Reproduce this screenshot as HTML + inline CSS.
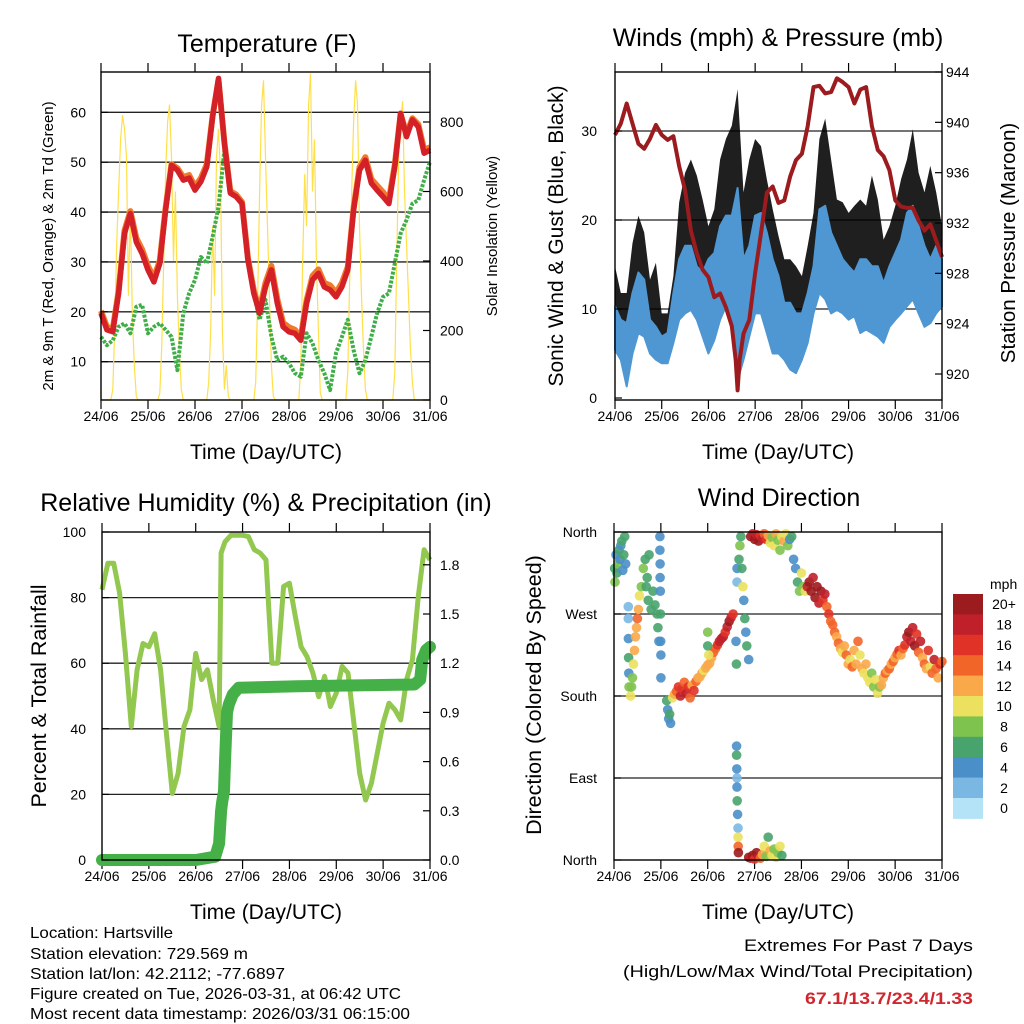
<!DOCTYPE html>
<html><head><meta charset="utf-8"><title>Hartsville Station Meteogram</title>
<style>
html,body{margin:0;padding:0;background:#fff;}
svg{display:block;font-family:"Liberation Sans",Arial,sans-serif;}
</style></head>
<body>
<svg id="fig" width="1024" height="1024" viewBox="0 0 1024 1024" xmlns="http://www.w3.org/2000/svg">
<rect x="0" y="0" width="1024" height="1024" fill="#fff"/>
<g id="p1"></g>
<g id="p2"></g>
<g id="p3"></g>
<g id="p4"></g>
<g id="cb"></g>
<text x="267" y="52" font-size="25" text-anchor="middle">Temperature (F)</text>
<text x="778" y="46" font-size="25" text-anchor="middle">Winds (mph) &amp; Pressure (mb)</text>
<text x="266" y="511" font-size="25" text-anchor="middle">Relative Humidity (%) &amp; Precipitation (in)</text>
<text x="779" y="506" font-size="25" text-anchor="middle">Wind Direction</text>
<text x="266" y="459" font-size="21" text-anchor="middle">Time (Day/UTC)</text>
<text x="778" y="459" font-size="21" text-anchor="middle">Time (Day/UTC)</text>
<text x="266" y="919" font-size="21" text-anchor="middle">Time (Day/UTC)</text>
<text x="778" y="919" font-size="21" text-anchor="middle">Time (Day/UTC)</text>
<text transform="translate(53,246) rotate(-90)" font-size="15" text-anchor="middle">2m &amp; 9m T (Red, Orange) &amp; 2m Td (Green)</text>
<text transform="translate(497,236) rotate(-90)" font-size="15" text-anchor="middle">Solar Insolation (Yellow)</text>
<text transform="translate(563,236) rotate(-90)" font-size="21" text-anchor="middle">Sonic Wind &amp; Gust (Blue, Black)</text>
<text transform="translate(1015,243) rotate(-90)" font-size="20.5" text-anchor="middle">Station Pressure (Maroon)</text>
<text transform="translate(46,696) rotate(-90)" font-size="21.5" text-anchor="middle">Percent &amp; Total Rainfall</text>
<text transform="translate(541,695) rotate(-90)" font-size="21.5" text-anchor="middle">Direction (Colored By Speed)</text>
<g font-size="16">
<text x="30" y="938" textLength="143" lengthAdjust="spacingAndGlyphs">Location: Hartsville</text>
<text x="30" y="959" textLength="218" lengthAdjust="spacingAndGlyphs">Station elevation: 729.569 m</text>
<text x="30" y="979" textLength="255" lengthAdjust="spacingAndGlyphs">Station lat/lon: 42.2112; -77.6897</text>
<text x="30" y="999" textLength="371" lengthAdjust="spacingAndGlyphs">Figure created on Tue, 2026-03-31, at 06:42 UTC</text>
<text x="30" y="1019" textLength="380" lengthAdjust="spacingAndGlyphs">Most recent data timestamp: 2026/03/31 06:15:00</text>
</g>
<text x="973" y="951" font-size="17" text-anchor="end" textLength="229" lengthAdjust="spacingAndGlyphs">Extremes For Past 7 Days</text>
<text x="973" y="977" font-size="17" text-anchor="end" textLength="350" lengthAdjust="spacingAndGlyphs">(High/Low/Max Wind/Total Precipitation)</text>
<text x="973" y="1004" font-size="17" font-weight="bold" fill="#d0262d" text-anchor="end" textLength="168" lengthAdjust="spacingAndGlyphs">67.1/13.7/23.4/1.33</text>
</svg>
<script>
// ---------- data ----------
var dayLabels = ["24/06","25/06","26/06","27/06","28/06","29/06","30/06","31/06"];
var tempHours = [0,3,6,9,12,15,18,21,24,27,30,33,36,39,42,45,48,51,54,57,60,63,66,69,72,75,78,81,84,87,90,93,96,99,102,105,108,111,114,117,120,123,126,129,132,135,138,141,144,147,150,153,156,159,162,165,168];
var temp2m = [19.7,16.4,16,23.7,35.7,39.7,34,31.7,28.4,26,29.7,40.4,49.4,48.4,46.4,46.8,44.4,46.1,49.1,59.1,66.8,53.8,43.8,43.1,41.7,30.4,23.7,19.7,25,28.4,21.7,17,16,15.7,14.3,21.7,26.4,27.7,25,24.4,23,25,28.4,40.4,48.4,50.4,45.8,44.4,43.1,41.7,49.1,59.8,55.1,58.5,57.1,51.8,52.4];
var temp9m = [20.2,17,16.6,24.2,36.3,40.2,34.8,32.5,29.2,26.8,30.3,40.8,49.6,48.8,47,47.4,45.1,46.8,49.6,59.3,66.5,54,44.2,43.5,42,30.8,24.3,20.4,25.8,29.2,22.6,17.8,16.9,16.4,15,22.3,27.2,28.5,25.8,25.3,23.8,25.8,29,40.8,49,51,46.6,45.3,44,42.5,49.5,59.7,55.6,58.8,57.6,52.5,53];
var dewpt = [15,13.3,14.3,17,17.7,15.7,21,21.4,15.7,17,17.7,16.4,15,8.3,19.7,23.7,26.4,31,29.7,35,41,52.4,43.8,43.1,41.7,30.4,23.7,18.4,22.4,15,10.3,11,9.7,7.7,7,15.7,13.7,10.3,7.7,4.3,11.7,15,18.4,12.3,7.7,10.3,15,19.7,23,23.7,29.7,35.7,38.4,41.7,42.4,46.4,50.1];
var solarHours = [0,5,6,7,8,9,10,11,12,13,14,15,16,17,18,19, 29,30,31,32,33,34,35,36,37,38,39,40,41,42, 54,55,56,57,58,59,60,61,62,63,64,65,66, 78,79,80,81,82,83,84,85,86,87,88,89, 101,102,103,104,105,106,107,108,109,110,111,112,113, 125,126,127,128,129,130,131,132,133,134,135,136, 149,150,151,152,153,154,155,156,157,158,159,160,168];
var solarVals  = [0,0,30,200,450,600,750,820,780,700,300,550,250,100,10,0, 0,20,150,400,650,800,850,700,400,600,300,150,30,0, 0,50,200,500,300,700,780,650,200,30,100,10,0, 0,50,300,600,850,920,700,500,300,100,10,0, 0,100,400,650,500,850,940,600,750,400,200,20,0, 0,80,350,600,800,920,850,500,300,150,30,0, 0,80,400,700,800,860,600,450,300,150,50,0,0];
var gustMax = [14.8,11.8,11.8,17.4,20.5,18.6,13.3,15.2,9.5,9.5,13.7,22,25.3,26.8,25,22.3,19.3,21.2,26.8,29.1,30.6,34.7,23.1,26.8,29.1,28.3,24.6,21.2,18.2,15.6,15.6,14.8,13.7,17.1,20.8,29.1,31.4,26.8,22.3,22,20.8,21.6,22.3,21.6,25,22.3,17.8,19.3,21.6,24.6,26.8,30.2,25.3,23.1,26.1,23.1,19.3];
var windMax = [10.3,8.8,8.4,11.8,14.1,13.3,8.8,8,6.9,7.3,11.8,15.6,17.1,17.1,14.8,14.1,15.6,16.3,19.3,20.5,20.5,23.6,15.6,17.1,20.5,20.8,18.6,15.6,13.7,10.7,10.7,9.5,9.5,11.8,14.8,21.2,21.6,18.6,17.1,15.6,14.8,14.1,15.6,15.6,14.8,14.8,12.9,14.8,16.3,17.8,20.8,21.6,19.3,17.1,15.6,17.1,15.6];
var windMin = [5.4,4.3,1.3,5,7.3,6.9,5,4.3,3.9,3.9,6.2,8.8,9.5,9.9,8.8,6.9,5,6.5,8.8,10.3,8,2,4.3,6.9,9.5,9.5,7.3,5,5,4.3,3.2,2.8,4.3,6.2,9.5,11.8,11.1,9.5,9.9,9.5,8.8,9.2,7.3,7.7,7.3,6.9,6.2,8,8.8,9.5,10.3,11.1,9.5,8,8.4,9.5,10.3];
var presHours = [0,3,6,9,12,15,18,21,24,27,30,33,36,39,42,45,48,51,54,57,60,62,63,64,66,69,72,75,78,81,84,87,90,93,96,99,102,105,108,111,114,117,120,123,126,129,132,135,138,141,144,147,150,153,156,159,162,165,168];
var pressure = [939,939.9,941.5,939.9,938.3,937.9,938.7,939.8,939,938.6,938.9,936.5,934.6,931.4,929.6,928.3,927.7,926.1,926.4,925.3,923.8,921.1,918.7,921.1,923.2,924.3,928,931.2,934.4,934.9,933.6,933.8,935.7,937,937.5,939.7,942.8,942.9,942.3,942.4,943.5,943.2,942.8,941.5,942.6,942.8,939.7,937.8,937.3,936.2,933.8,933.3,933.2,933.2,932.2,931.4,931.9,930.6,929.3];
var rhHours = [0,3,6,9,12,15,18,21,24,27,30,33,36,39,42,45,48,51,54,57,60,61,63,66,69,72,75,78,81,84,87,90,93,96,99,102,105,108,111,114,117,120,123,126,129,132,135,138,141,144,147,150,153,156,159,162,165,168];
var rh = [82.4,90.5,90.5,81.4,63,40.7,58,66,65,69,58,38.7,20.3,26.4,40.7,45.8,63,55,58,48.8,40.7,93.6,97,99,99,99,98.6,94.6,93.6,91.5,60,60,83.4,84.4,74.3,65,62,57,49.8,56,46.8,50.9,59,57,41.7,26.4,18.3,23.4,32.6,41.7,47.8,45.8,42.7,55,61,80.4,94.6,91.5];
var precipHours = [0,48,58,60,61,61.5,62.5,63,64,65,67,70,100,160,163,164,166,168];
var precip = [0,0,0.02,0.1,0.3,0.35,0.42,0.6,0.9,0.95,1.01,1.05,1.06,1.07,1.1,1.22,1.28,1.3];
var dirHours = [0.3,0.5,1,1.5,2,2.5,3,3.5,4,4.5,5,5.5,6, 7.3,7.3,7.4,7.5,7.6,7.7, 8.5,9,9.5,10,10.5,11,11.5,12,12.5,13,14,15, 16,16.5,17,17.5,18,19,20,21,22,22.5,23, 23.5,23.5,23.6,23.6,23.7,23.8,23.9,24,24, 27,27.5,28,28.5,29, 30,31,32,33,34,35,36,37,38,39,40,41,42,43,44,45,46,47,48,49,50,51,52,53,54,55,56,57,58,59,60,61, 48,48,48.5, 62.5,62.7,63,63,64,64.5,65,65.5,66,66.5,67,67.5,68,69, 62.8,62.8,62.9,63,63,63.1,63.3,63.5,63.5,63.6,63.7, 70,71,72,73,74,75,76,77,78,79,80,81,82,83,84,85,86,87,88,89,90,91, 69,70,71,72,73,74,75,76,77,78,79,80,81,82,83,84,85,86, 92,93,94,95,96,97,98, 99,100,101,102,103,104,105,106,107,108,109,110,111, 112,113,114,115,116,117,118,119,120,121,122,123,124,125,126,127,128,129,130,131,132,133,134,135,136,137,138,139, 140,141,142,143,144,145,146,147,148,149,150,151,152,153,154,155,156,157,158,159,160,161,162,163,164,165,166,167,168];
var dirDeg = [320,305,335,315,325,340,330,345,350,318,335,355,325, 278,265,243,222,205,190, 180,190,200,215,230,245,255,265,275,290,300,320, 330,300,310,285,335,275,295,280,270,255,240, 355,340,325,310,295,270,240,225,200, 175,165,155,160,150, 178,182,185,190,180,188,195,183,190,178,192,186,196,200,201,205,208,211,214,216,222,228,232,236,240,243,245,250,256,262,266,270, 250,235,225, 240,215,320,305,330,345,355,320,300,285,265,250,235,220, 125,115,100,90,80,65,50,35,25,15,8, 355,358,352,357,350,356,353,358,352,356,348,354,345,358,351,340,355,350,358,345,352,355, 3,2,5,1,8,3,2,6,15,4,25,10,5,12,3,8,15,5, 330,320,305,295,315,300,295, 300,305,295,310,288,300,282,295,285,292,278,270,262, 258,250,245,238,232,228,235,225,215,220,212,230,215,240,225,210,205,215,200,195,205,190,198,183,190,192,200,205, 208,210,215,218,222,226,230,225,232,236,245,250,240,255,235,248,228,240,222,215,210,230,212,205,220,210,200,215,218];
var dirSpeed = [6,8,5,7,9,6,4,5,6,4,6,6,4, 2,3,4,6,4,8, 10,9,8,10,12,13,12,14,12,10,8,9, 7,6,7,6,7,6,6,7,6,6,5, 4,4,4,4,5,6,4,4,4, 6,5,4,6,4, 10,12,14,16,18,16,14,18,16,14,12,16,14,12,12,12,10,12,12,12,12,14,14,16,18,18,18,16,18,20,18,16, 8,6,10, 4,6,4,2,6,8,6,6,10,4,6,4,6,4, 4,6,4,2,4,6,4,2,10,14,20, 20,18,20,18,20,16,18,14,16,12,10,8,10,12,8,8,10,12,10,8,4,6, 20,18,20,16,20,18,14,12,10,8,6,12,10,8,10,8,10,6, 4,4,6,8,10,8,10, 18,20,20,18,20,20,18,20,16,18,14,16,14, 14,14,12,14,12,10,12,14,12,10,14,12,12,14,10,12,10,12,10,10,8,8,10,10,8,12,12,14, 12,14,12,14,12,14,16,12,14,16,18,20,18,18,20,16,14,18,12,14,12,16,10,14,18,14,12,16,14];
var speedLabels = ["0","2","4","6","8","10","12","14","16","18","20+"];
var speedColors = ["#b4e3f8","#7ab8e3","#4a8fc8","#48a36d","#7fc34f","#ebe15e","#f9a94a","#f26529","#e03226","#c0202a","#9b1b1e"];
var tempTicks = [10,20,30,40,50,60];
var solarTicks = [0,200,400,600,800];
var windTicks = [0,10,20,30];
var presTicks = [920,924,928,932,936,940,944];
var rhTicks = [0,20,40,60,80,100];
var rainTicks = [0,0.3,0.6,0.9,1.2,1.5,1.8];
var dirTicks = [0,90,180,270,360];
var dirNames = ["North","East","South","West","North"];

// ---------- helpers ----------
var NS = "http://www.w3.org/2000/svg";
function mk(tag, parent, attrs){ var e=document.createElementNS(NS,tag); for(var k in attrs) e.setAttribute(k,attrs[k]); parent.appendChild(e); return e; }
function scaleLin(d0,d1,r0,r1){ return function(v){ return r0+(v-d0)*(r1-r0)/(d1-d0); }; }
function pathFrom(xs, ys, fx, fy){ var s=""; for(var i=0;i<xs.length;i++){ s+=(i?"L":"M")+fx(xs[i]).toFixed(1)+","+fy(ys[i]).toFixed(1); } return s; }

function frame(g, x0, x1, y0, y1, gridVals, fy){
  var fx = scaleLin(0,168,x0,x1);
  for (var i=0;i<gridVals.length;i++){
    var y=fy(gridVals[i]);
    if (y>y0+3 && y<y1-3){
      var gl = mk("line", g, {x1:x0,x2:x1,y1:y,y2:y,stroke:"#222","stroke-width":1.3});
      
      
    }
  }
  for (var d=0; d<dayLabels.length; d++){
    var x=fx(d*24);
    var t1 = mk("line", g, {x1:x,x2:x,y1:y0-9,y2:y0,stroke:"#000","stroke-width":1.2});
    
    
    var t2 = mk("line", g, {x1:x,x2:x,y1:y1,y2:y1+9,stroke:"#000","stroke-width":1.2});
    
    
    var lb = mk("text", g, {x:x,y:y1+21,"font-size":14,"text-anchor":"middle"});
    lb.textContent = dayLabels[d];
    
    
  }
  return fx;
}
function border(g,x0,x1,y0,y1){
  var b = mk("rect", g, {x:x0,y:y0,width:x1-x0,height:y1-y0,fill:"none",stroke:"#000","stroke-width":1.4});
  
  
}
function yLabels(g, vals, texts, fy, x, anchor, tickX, tickDir){
  for (var i=0;i<vals.length;i++){
    var y=fy(vals[i]);
    var t = mk("text", g, {x:x,y:y+5,"font-size":14,"text-anchor":anchor});
    t.textContent = texts[i];
    
    
    var tk = mk("line", g, {x1:tickX,x2:tickX+tickDir*7,y1:y,y2:y,stroke:"#000","stroke-width":1.2});
    
    
  }
}

// ---------- panel 1: temperature ----------
(function(){
  var g=document.getElementById("p1");
  var X0=101,X1=430,Y0=72,Y1=400;
  var fy=scaleLin(60,10,112.3,361.7);
  var fs=scaleLin(0,800,400,122);
  var fx=frame(g,X0,X1,Y0,Y1,tempTicks,fy);
  var sol = mk("path", g, {d:pathFrom(solarHours,solarVals,fx,fs),fill:"none",stroke:"#ffe04a","stroke-width":1.2});
  
  
  var dp = mk("path", g, {d:pathFrom(tempHours,dewpt,fx,fy),fill:"none",stroke:"#3fae49","stroke-width":4,"stroke-dasharray":"3,1.5","stroke-linejoin":"round"});
  
  
  var t9 = mk("path", g, {d:pathFrom(tempHours,temp9m,fx,fy),fill:"none",stroke:"#f07a2b","stroke-width":6,"stroke-linejoin":"round"});
  
  
  var t2 = mk("path", g, {d:pathFrom(tempHours,temp2m,fx,fy),fill:"none",stroke:"#d42027","stroke-width":5.5,"stroke-linejoin":"round"});
  
  
  border(g,X0,X1,Y0,Y1);
  yLabels(g,tempTicks,tempTicks.map(String),fy,86,"end",X0,1);
  yLabels(g,solarTicks,solarTicks.map(String),fs,440,"start",X1,-1);
})();

// ---------- panel 2: winds ----------
(function(){
  var g=document.getElementById("p2");
  var X0=615,X1=942,Y0=72,Y1=400;
  var fy=scaleLin(0,30,398,131);
  var fp=scaleLin(944,920,72,374);
  var fx=frame(g,X0,X1,Y0,Y1,windTicks,fy);
  var topPts=[], botPts=[];
  for (var i=0;i<tempHours.length;i++){ topPts.push(fx(tempHours[i]).toFixed(1)+","+fy(gustMax[i]).toFixed(1)); }
  for (var j=tempHours.length-1;j>=0;j--){ botPts.push(fx(tempHours[j]).toFixed(1)+","+fy(windMax[j]-3).toFixed(1)); }
  var gb = mk("polygon", g, {points:topPts.concat(botPts).join(" "),fill:"#000","fill-opacity":0.88,stroke:"none"});
  
  
  var tp2=[], bp2=[];
  for (var k=0;k<tempHours.length;k++){ tp2.push(fx(tempHours[k]).toFixed(1)+","+fy(windMax[k]).toFixed(1)); }
  for (var m=tempHours.length-1;m>=0;m--){ bp2.push(fx(tempHours[m]).toFixed(1)+","+fy(windMin[m]).toFixed(1)); }
  var wb = mk("polygon", g, {points:tp2.concat(bp2).join(" "),fill:"#4e97d3",stroke:"#4e97d3","stroke-width":2,"stroke-linejoin":"round"});
  
  
  var pl = mk("path", g, {d:pathFrom(presHours,pressure,fx,fp),fill:"none",stroke:"#9b1b1e","stroke-width":4,"stroke-linejoin":"round"});
  
  
  border(g,X0,X1,Y0,Y1);
  yLabels(g,windTicks,windTicks.map(String),fy,597,"end",X0,1);
  yLabels(g,presTicks,presTicks.map(String),fp,946,"start",X1,-1);
})();

// ---------- panel 3: humidity ----------
(function(){
  var g=document.getElementById("p3");
  var X0=102,X1=430,Y0=532,Y1=860;
  var fy=scaleLin(0,100,860,532);
  var fr=scaleLin(0,2,860,532);
  var fx=frame(g,X0,X1,Y0,Y1,rhTicks,fy);
  var rl = mk("path", g, {d:pathFrom(rhHours,rh,fx,fy),fill:"none",stroke:"#92c84f","stroke-width":5,"stroke-linejoin":"round"});
  
  
  var pr = mk("path", g, {d:pathFrom(precipHours,precip,fx,fr),fill:"none",stroke:"#45b048","stroke-width":12,"stroke-linejoin":"round","stroke-linecap":"round"});
  
  
  border(g,X0,X1,Y0,Y1);
  yLabels(g,rhTicks,rhTicks.map(String),fy,86,"end",X0,1);
  yLabels(g,rainTicks,rainTicks.map(function(v){return v.toFixed(1);}),fr,440,"start",X1,-1);
})();

// ---------- panel 4: wind direction ----------
(function(){
  var g=document.getElementById("p4");
  var X0=614,X1=942,Y0=532,Y1=860;
  var fy=scaleLin(0,360,860,532);
  var fx=frame(g,X0,X1,Y0,Y1,dirTicks,fy);
  for (var i=0;i<dirHours.length;i++){
    var bin=Math.min(10,Math.floor(dirSpeed[i]/2));
    var c = mk("circle", g, {cx:fx(dirHours[i]).toFixed(1),cy:fy(dirDeg[i]).toFixed(1),r:4.8,fill:speedColors[bin],"fill-opacity":0.9});
    
    
  }
  border(g,X0,X1,Y0,Y1);
  yLabels(g,dirTicks,dirNames,fy,597,"end",X0,1);
})();

// ---------- colorbar ----------
(function(){
  var g=document.getElementById("cb");
  var top=594, h=20.4, x=953, w=30;
  var ml = mk("text", g, {x:990,y:589,"font-size":14});
  ml.textContent="mph";
  
  
  for (var i=0;i<speedLabels.length;i++){
    var idx=speedLabels.length-1-i;
    var r = mk("rect", g, {x:x,y:(top+i*h).toFixed(1),width:w,height:(h+0.5).toFixed(1),fill:speedColors[idx]});
    
    
    var t = mk("text", g, {x:1004,y:(top+i*h+h/2+5).toFixed(1),"font-size":14,"text-anchor":"middle"});
    t.textContent=speedLabels[idx];
    
    
  }
})();
</script>
</body></html>
